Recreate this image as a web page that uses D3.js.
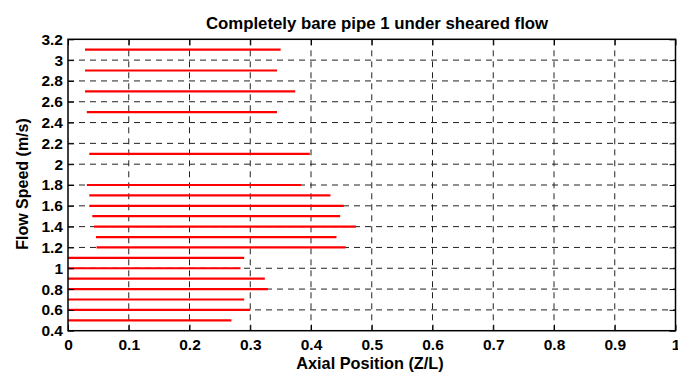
<!DOCTYPE html>
<html>
<head>
<meta charset="utf-8">
<script src="https://d3js.org/d3.v7.min.js"></script>
<style>
  body { margin: 0; background: #fff; }
  svg text { font-family: "Liberation Sans", Arial, sans-serif; font-weight: bold; fill: #000; }
</style>
</head>
<body>
<svg id="chart" width="678" height="372"></svg>
<script>
// flow speeds (m/s) and axial start / end of each red segment
var speeds = [3.1, 2.9, 2.7, 2.5, 2.1, 1.8, 1.7, 1.6, 1.5, 1.4, 1.3, 1.2, 1.1, 1.0, 0.9, 0.8, 0.7, 0.6, 0.5];
var starts = [0.028, 0.028, 0.028, 0.031, 0.035, 0.031, 0.035, 0.035, 0.040, 0.043, 0.046, 0.047, 0, 0, 0, 0, 0, 0, 0];
var ends   = [0.350, 0.344, 0.374, 0.344, 0.398, 0.384, 0.432, 0.454, 0.448, 0.474, 0.442, 0.457, 0.290, 0.284, 0.324, 0.329, 0.290, 0.300, 0.269];

var xTicks = [0, 0.1, 0.2, 0.3, 0.4, 0.5, 0.6, 0.7, 0.8, 0.9, 1];
var yTicks = [0.4, 0.6, 0.8, 1, 1.2, 1.4, 1.6, 1.8, 2, 2.2, 2.4, 2.6, 2.8, 3, 3.2];

var titleText = "Completely bare pipe 1 under sheared flow";
var xLabel = "Axial Position (Z/L)";
var yLabel = "Flow Speed (m/s)";

var pLeft = 68, pRight = 675.5, pTop = 39.3, pBottom = 330.7;

var svg = d3.select("#chart");

var x = d3.scaleLinear().domain([0, 1]).range([pLeft, pRight]);
var y = d3.scaleLinear().domain([0.4, 3.2]).range([pBottom, pTop]);

//griglia
var grid = svg.append("g").attr("class", "grid");
grid.selectAll(".vgrid").data(xTicks.slice(1, -1)).enter().append("line")
  .attr("x1", function(d){ return x(d); }).attr("x2", function(d){ return x(d); })
  .attr("y1", pTop).attr("y2", pBottom)
  .style("stroke", "#222").style("stroke-width", 1).style("stroke-dasharray", "6,5");
grid.selectAll(".hgrid").data(yTicks.slice(1, -1)).enter().append("line")
  .attr("y1", function(d){ return y(d); }).attr("y2", function(d){ return y(d); })
  .attr("x1", pLeft).attr("x2", pRight)
  .style("stroke", "#222").style("stroke-width", 1).style("stroke-dasharray", "6,5");

//segmenti
svg.append("g").selectAll("line").data(speeds).enter().append("line")
  .attr("x1", function(d,i){ return x(starts[i]); })
  .attr("x2", function(d,i){ return x(ends[i]); })
  .attr("y1", function(d){ return y(d); })
  .attr("y2", function(d){ return y(d); })
  .style("stroke", "#ff0000").style("stroke-width", 2.2);

//assi
var fmt = function(d){ return String(+d.toFixed(1)); };
svg.append("g").attr("transform", "translate(0," + pBottom + ")")
  .call(d3.axisBottom(x).tickValues(xTicks).tickFormat(fmt).tickSizeInner(-6).tickSizeOuter(0).tickPadding(8.5))
  .call(function(g){ g.select(".domain").remove(); })
  .selectAll("text").style("font-size", "15.5px");
svg.append("g").attr("transform", "translate(0," + pTop + ")")
  .call(d3.axisTop(x).tickValues(xTicks).tickFormat("").tickSizeInner(-6).tickSizeOuter(0))
  .call(function(g){ g.select(".domain").remove(); });
svg.append("g").attr("transform", "translate(" + pLeft + ",0)")
  .call(d3.axisLeft(y).tickValues(yTicks).tickFormat(fmt).tickSizeInner(-6).tickSizeOuter(0).tickPadding(5))
  .call(function(g){ g.select(".domain").remove(); })
  .selectAll("text").style("font-size", "15.5px");
svg.append("g").attr("transform", "translate(" + pRight + ",0)")
  .call(d3.axisRight(y).tickValues(yTicks).tickFormat("").tickSizeInner(-6).tickSizeOuter(0))
  .call(function(g){ g.select(".domain").remove(); });
svg.selectAll(".tick line").style("stroke", "#000");

svg.append("rect")
  .attr("x", pLeft).attr("y", pTop)
  .attr("width", pRight - pLeft).attr("height", pBottom - pTop)
  .attr("fill", "none").style("stroke", "#000").style("stroke-width", 1.5);

//titoli
svg.append("text").attr("x", 377).attr("y", 29)
  .attr("text-anchor", "middle").style("font-size", "16.8px").text(titleText);
svg.append("text").attr("x", 370).attr("y", 369)
  .attr("text-anchor", "middle").style("font-size", "16.3px").text(xLabel);
svg.append("text").attr("transform", "translate(28,184) rotate(-90)")
  .attr("text-anchor", "middle").style("font-size", "16px").text(yLabel);
</script>
</body>
</html>
